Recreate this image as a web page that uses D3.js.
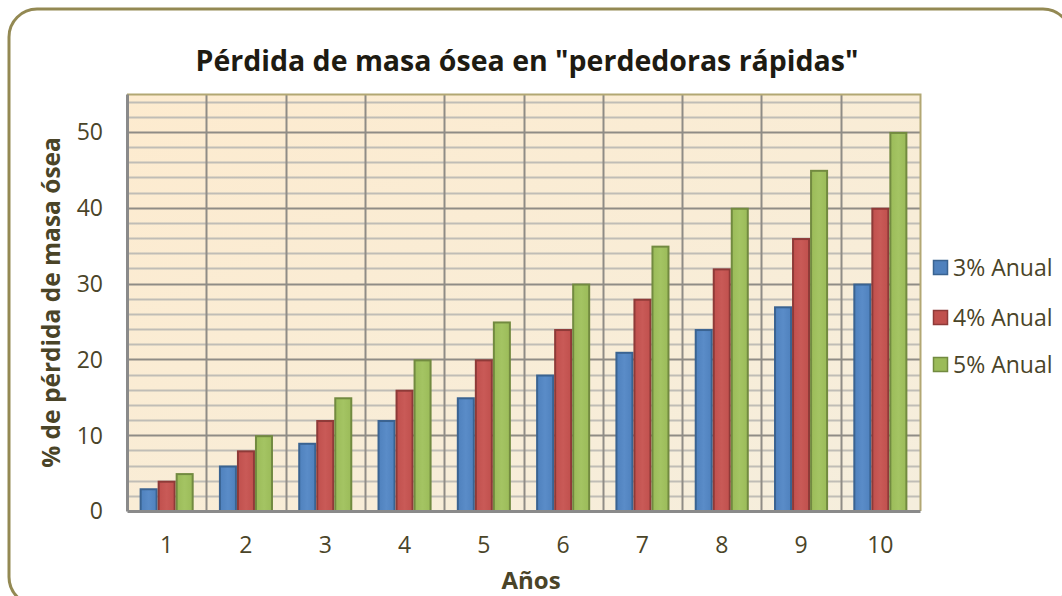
<!DOCTYPE html>
<html>
<head>
<meta charset="utf-8">
<script src="https://cdn.jsdelivr.net/npm/d3@7"></script>
<style>
  html, body { margin: 0; padding: 0; background: #ffffff; }
  svg { display: block; }
  text { font-family: "Open Sans", "Liberation Sans", sans-serif; }
</style>
</head>
<body>
<svg id="chart" width="1062" height="596"></svg>
<script>
// Years since onset
const years = ["1", "2", "3", "4", "5", "6", "7", "8", "9", "10"];
// Cumulative bone mass loss (%) for each annual rate
const loss3 = [3, 6, 9, 12, 15, 18, 21, 24, 27, 30];
const loss4 = [4, 8, 12, 16, 20, 24, 28, 32, 36, 40];
const loss5 = [5, 10, 15, 20, 25, 30, 35, 40, 45, 50];
const seriesNames = ["3% Anual", "4% Anual", "5% Anual"];
const yTicks = [0, 10, 20, 30, 40, 50];
const yMax = 55;

const series = [
  { name: seriesNames[0], values: loss3, fill: "#4f81bd", light: "#5a8cc8", stroke: "#3a6391" },
  { name: seriesNames[1], values: loss4, fill: "#c0504d", light: "#c95a57", stroke: "#8e3a38" },
  { name: seriesNames[2], values: loss5, fill: "#9bbb59", light: "#a4c463", stroke: "#728a40" }
];

const svg = d3.select("#chart");
const defs = svg.append("defs");

// outer frame
svg.append("rect")
  .attr("x", 9).attr("y", 9)
  .attr("width", 1062).attr("height", 596)
  .attr("rx", 28).attr("ry", 28)
  .attr("fill", "#ffffff")
  .attr("stroke", "#938953")
  .attr("stroke-width", 3);

const plot = { left: 127, top: 94, right: 920, bottom: 511 };

const x = d3.scaleBand().domain(years).range([plot.left, plot.right]).padding(0);
const xs = d3.scaleBand().domain(seriesNames).range([0, x.bandwidth()])
  .paddingInner(0).paddingOuter(0.7);
const y = d3.scaleLinear().domain([0, yMax]).range([plot.bottom, plot.top]);

// plot background gradient
const bg = defs.append("linearGradient").attr("id", "plotBg")
  .attr("x1", "0").attr("y1", "0").attr("x2", "1").attr("y2", "1");
bg.append("stop").attr("offset", "0").attr("stop-color", "#fdebcf");
bg.append("stop").attr("offset", "1").attr("stop-color", "#f5eedd");

svg.append("rect")
  .attr("x", plot.left).attr("y", plot.top)
  .attr("width", plot.right - plot.left).attr("height", plot.bottom - plot.top)
  .attr("fill", "url(#plotBg)");

// minor horizontal grid lines
const minor = d3.range(2, yMax, 2).filter(v => v % 10 !== 0);
svg.append("g").selectAll("line").data(minor).join("line")
  .attr("x1", plot.left).attr("x2", plot.right)
  .attr("y1", d => Math.round(y(d)) + 0.5).attr("y2", d => Math.round(y(d)) + 0.5)
  .attr("stroke", "#c0bdb6").attr("stroke-width", 2);

// major horizontal grid lines
svg.append("g").selectAll("line").data(yTicks.filter(v => v > 0)).join("line")
  .attr("x1", plot.left).attr("x2", plot.right)
  .attr("y1", d => Math.round(y(d)) + 0.5).attr("y2", d => Math.round(y(d)) + 0.5)
  .attr("stroke", "#8f8c86").attr("stroke-width", 2);

// vertical grid lines between years
svg.append("g").selectAll("line").data(years.slice(1)).join("line")
  .attr("x1", d => Math.round(x(d)) + 0.5).attr("x2", d => Math.round(x(d)) + 0.5)
  .attr("y1", plot.top).attr("y2", plot.bottom)
  .attr("stroke", "#8f8c86").attr("stroke-width", 2);

// plot border: olive on top and right
svg.append("path")
  .attr("d", `M${plot.left},${plot.top + 0.5}H${plot.right + 0.5}V${plot.bottom}`)
  .attr("fill", "none").attr("stroke", "#b2a773").attr("stroke-width", 2);

// bar gradients
series.forEach((s, i) => {
  const g = defs.append("linearGradient").attr("id", "bar" + i)
    .attr("x1", "0").attr("y1", "0").attr("x2", "1").attr("y2", "0");
  g.append("stop").attr("offset", "0").attr("stop-color", s.fill);
  g.append("stop").attr("offset", "0.5").attr("stop-color", s.light);
  g.append("stop").attr("offset", "1").attr("stop-color", s.fill);
});

// bars
series.forEach((s, i) => {
  svg.append("g").selectAll("rect").data(s.values).join("rect")
    .attr("x", (d, j) => x(years[j]) + xs(s.name) + 1)
    .attr("y", d => y(d) + 1)
    .attr("width", xs.bandwidth() - 2)
    .attr("height", d => plot.bottom - y(d) - 1)
    .attr("fill", `url(#bar${i})`)
    .attr("stroke", s.stroke).attr("stroke-width", 2);
});

// axes
const yAxis = d3.axisLeft(y).tickValues(yTicks).tickSize(0).tickPadding(24);
const gy = svg.append("g").attr("transform", `translate(${plot.left},0)`).call(yAxis);
gy.select(".domain").attr("stroke", "#8a8a8a").attr("stroke-width", 3);
gy.selectAll("text").attr("fill", "#4a4428").attr("font-size", 23)
  .attr("font-family", "'Open Sans', sans-serif")
  .attr("dy", "0.34em");

const xAxis = d3.axisBottom(x).tickSize(0).tickPadding(26);
const gx = svg.append("g").attr("transform", `translate(0,${plot.bottom})`).call(xAxis);
gx.select(".domain").attr("stroke", "#8a8a8a").attr("stroke-width", 3);
gx.selectAll("text").attr("fill", "#4a4428").attr("font-size", 23)
  .attr("font-family", "'Open Sans', sans-serif");

// titles
svg.append("text")
  .attr("x", 527).attr("y", 71)
  .attr("text-anchor", "middle")
  .attr("font-size", 28.5).attr("font-weight", 700)
  .attr("fill", "#1e1b12")
  .text('Pérdida de masa ósea en "perdedoras rápidas"');

svg.append("text")
  .attr("transform", `translate(60,${(plot.top + plot.bottom) / 2}) rotate(-90)`)
  .attr("text-anchor", "middle")
  .attr("font-size", 24.5).attr("font-weight", 700)
  .attr("fill", "#4a4428")
  .text("% de pérdida de masa ósea");

svg.append("text")
  .attr("x", 531).attr("y", 589)
  .attr("text-anchor", "middle")
  .attr("font-size", 24).attr("font-weight", 700)
  .attr("fill", "#4a4428")
  .text("Años");

// legend
const legend = svg.append("g").attr("transform", "translate(933,0)");
const legendY = [268, 318, 365];
series.forEach((s, i) => {
  const row = legend.append("g").attr("transform", `translate(0,${legendY[i]})`);
  row.append("rect")
    .attr("x", 0.5).attr("y", -7.5).attr("width", 14).attr("height", 14)
    .attr("fill", s.fill).attr("stroke", s.stroke).attr("stroke-width", 1.5);
  row.append("text")
    .attr("x", 20).attr("y", 0).attr("dy", "0.36em")
    .attr("font-size", 23).attr("fill", "#4a4428")
    .text(s.name);
});
</script>
</body>
</html>
